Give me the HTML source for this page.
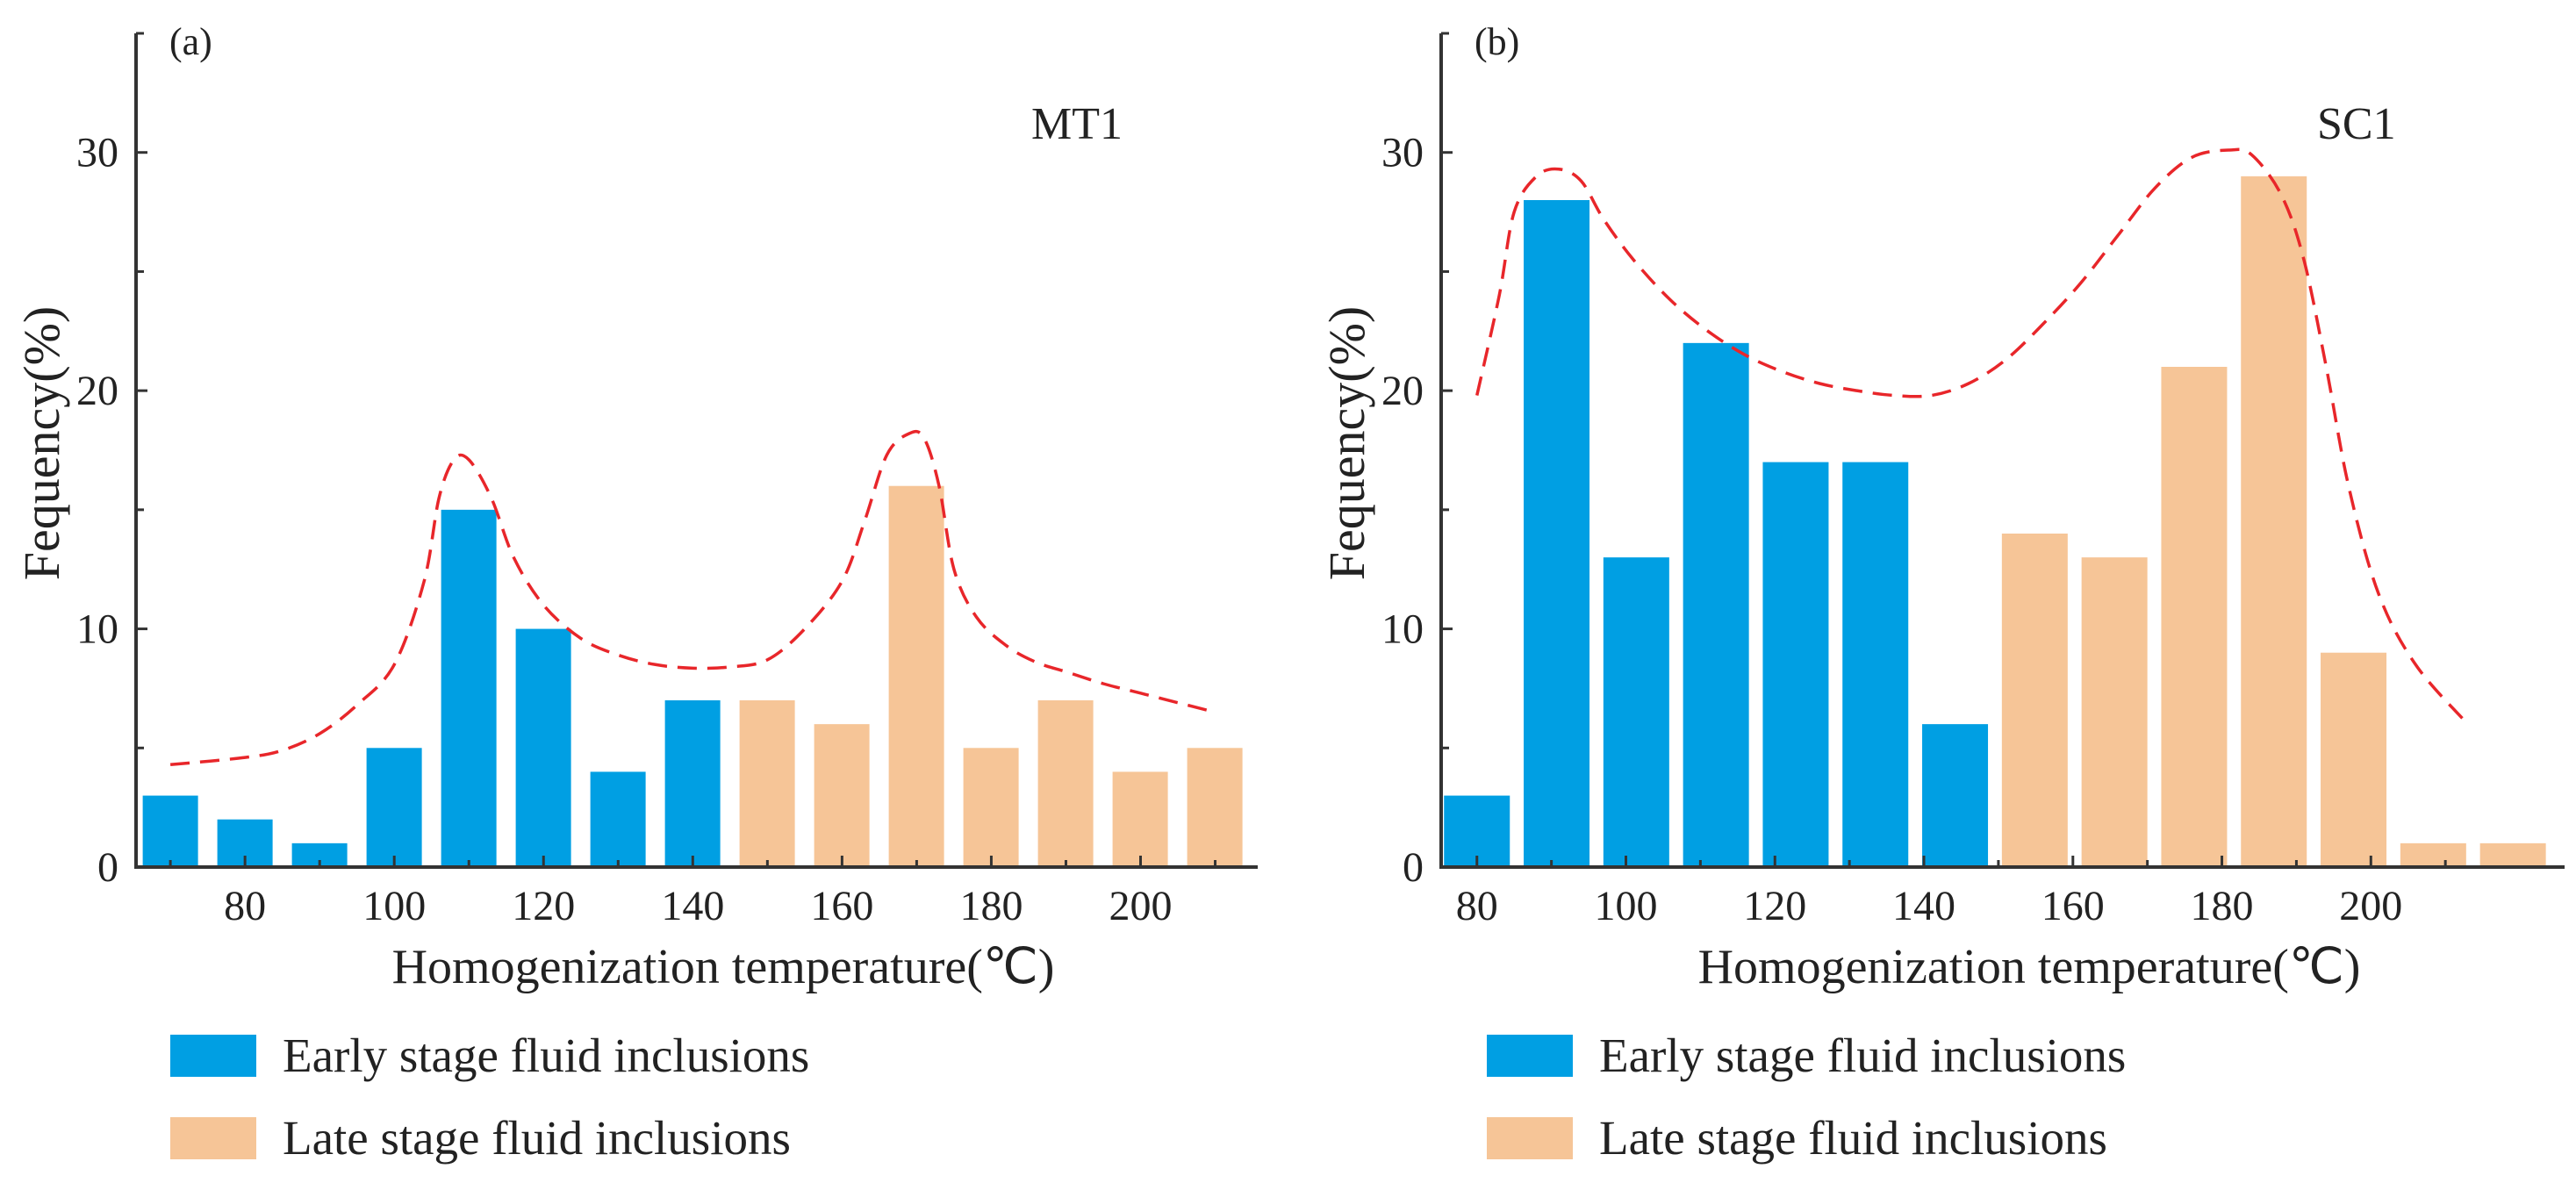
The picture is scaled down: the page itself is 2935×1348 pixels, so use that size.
<!DOCTYPE html>
<html><head><meta charset="utf-8"><style>
html,body{margin:0;padding:0;background:#fff;}
svg{display:block;font-family:"Liberation Serif",serif;}
</style></head><body>
<svg id="fig" width="2935" height="1348" viewBox="0 0 2935 1348"></svg>
<script>
const tempsA = [70,80,90,100,110,120,130,140,150,160,170,180,190,200,210];
const freqA = [3,2,1,5,15,10,4,7,7,6,16,5,7,4,5];
const stageA = ['e','e','e','e','e','e','e','e','l','l','l','l','l','l','l'];
const curveTA = [70,80,85,90,95,100,104,106,108,110,113,116,120,125,130,135,140,145,150,155,160,163,166,169,171,173,175,178,182,186,190,195,200,205,210];
const curveVA = [4.3,4.6,4.9,5.6,6.8,8.5,12,15.5,17.1,17.1,15.5,13,11,9.6,8.9,8.5,8.35,8.4,8.7,10,12,14.5,17.3,18.2,18,16,12.5,10.5,9.3,8.6,8.2,7.7,7.3,6.9,6.5];
const tempsB = [80,90,100,110,120,130,140,150,160,170,180,190,200,210];
const freqB = [3,28,13,22,17,17,6,14,13,21,29,9,1,1];
const stageB = ['e','e','e','e','e','e','e','l','l','l','l','l','l','l'];
const curveTB = [80,83,85,88,91,94,97,101,106,111,116,121,126,131,136,141,146,151,156,161,166,171,176,181,184,188,191,194,197,201,206,213];
const curveVB = [19.8,24,27.5,29,29.3,28.8,27.2,25.5,23.8,22.5,21.5,20.8,20.3,20,19.8,19.8,20.3,21.3,22.8,24.5,26.5,28.5,29.8,30.1,29.9,28.2,25.5,21,16,11.5,8.5,6];
const xTicks = [80,100,120,140,160,180,200];
const yTicks = [0,10,20,30];

const NS='http://www.w3.org/2000/svg';
const svg=document.getElementById('fig');
function mk(tag,attrs,parent){const e=document.createElementNS(NS,tag);for(const k in attrs)e.setAttribute(k,attrs[k]);(parent||svg).appendChild(e);return e;}

function panel(cfg){
  const g=mk('g',{});
  
  
  const x=t=>cfg.x0+(t-cfg.tmin)/(cfg.tmax-cfg.tmin)*(cfg.x1-cfg.x0);
  const y=v=>cfg.y0-(v/35)*(cfg.y0-cfg.ytop);
  const bx=t=>x(cfg.temps[0])+(t-cfg.temps[0])/10*cfg.bstep;
  cfg.temps.forEach((t,i)=>{
    const r=mk('rect',{x:bx(t)-cfg.bw/2,y:y(cfg.freq[i]),width:cfg.bw,height:cfg.y0-y(cfg.freq[i]),fill:cfg.stage[i]==='e'?'#009fe3':'#f6c597'},g);
    
    
  });
  const ax=mk('path',{d:`M${cfg.x0},${cfg.ytop} V${cfg.y0} H${cfg.x1}`,stroke:'#333',fill:'none','stroke-width':4},g);
  
  
  for(let v=0;v<=35;v+=5){
    mk('line',{x1:cfg.x0,x2:cfg.x0+(v%10===0?13:9),y1:y(v),y2:y(v),stroke:'#333','stroke-width':3},g);
  }
  yTicks.forEach(v=>{
    const t=mk('text',{x:cfg.x0-20,y:y(v)+16,'font-size':48,'text-anchor':'end',fill:'#222'},g);
    t.textContent=v;
    
    
  });
  for(let t=cfg.tmin0;t<=210;t+=10){
    mk('line',{x1:x(t),x2:x(t),y1:cfg.y0,y2:cfg.y0-(t%20===0?13:8),stroke:'#333','stroke-width':3},g);
  }
  xTicks.forEach(v=>{
    const t=mk('text',{x:x(v),y:cfg.y0+60,'font-size':48,'text-anchor':'middle',fill:'#222'},g);
    t.textContent=v;
    
    
  });
  const P=cfg.ct.map((t,i)=>[x(t),y(cfg.cv[i])]);
  let d=`M${P[0][0]},${P[0][1]}`;
  for(let i=0;i<P.length-1;i++){
    const p0=P[i-1]||P[i],p1=P[i],p2=P[i+1],p3=P[i+2]||P[i+1];
    d+=` C${p1[0]+(p2[0]-p0[0])/6},${p1[1]+(p2[1]-p0[1])/6} ${p2[0]-(p3[0]-p1[0])/6},${p2[1]-(p3[1]-p1[1])/6} ${p2[0]},${p2[1]}`;
  }
  const c=mk('path',{d:d,fill:'none',stroke:'#e8262a','stroke-width':3.5,'stroke-dasharray':'22 12'},g);
  
  
  const lab=mk('text',{x:cfg.x0+38,y:62,'font-size':44,fill:'#222'},g);lab.textContent=cfg.tag;
  
  
  const well=mk('text',{x:cfg.wellX,y:158,'font-size':52,fill:'#222'},g);well.textContent=cfg.well;
  
  
  const xt=mk('text',{x:(cfg.x0+cfg.x1)/2+30,y:1120,'font-size':56,'text-anchor':'middle',fill:'#222'},g);xt.textContent='Homogenization temperature(℃)';
  
  
  const yt=mk('text',{x:0,y:0,'font-size':58,'text-anchor':'middle',fill:'#222',transform:`translate(${cfg.x0-88},${505}) rotate(-90)`},g);yt.textContent='Fequency(%)';
  
  
  [['#009fe3','Early stage fluid inclusions',1179],['#f6c597','Late stage fluid inclusions',1273]].forEach(([col,txt,yy])=>{
    const lg=mk('g',{},g);
    
    
    mk('rect',{x:cfg.legX,y:yy,width:98,height:48,fill:col},lg);
    const tt=mk('text',{x:cfg.legX+128,y:yy+42,'font-size':55,fill:'#222'},lg);tt.textContent=txt;
  });
}
panel({name:'chart-mt1',temps:tempsA,freq:freqA,stage:stageA,ct:curveTA,cv:curveVA,x0:155,x1:1433,tmin:65.4,tmax:215.7,tmin0:70,y0:988,ytop:38,bw:63,bstep:85,tag:'(a)',well:'MT1',wellX:1175,legX:194});
panel({name:'chart-sc1',temps:tempsB,freq:freqB,stage:stageB,ct:curveTB,cv:curveVB,x0:1642,x1:2922,tmin:75.2,tmax:226,tmin0:80,y0:988,ytop:38,bw:75,bstep:90.8,tag:'(b)',well:'SC1',wellX:2640,legX:1694});
</script>
</body></html>
